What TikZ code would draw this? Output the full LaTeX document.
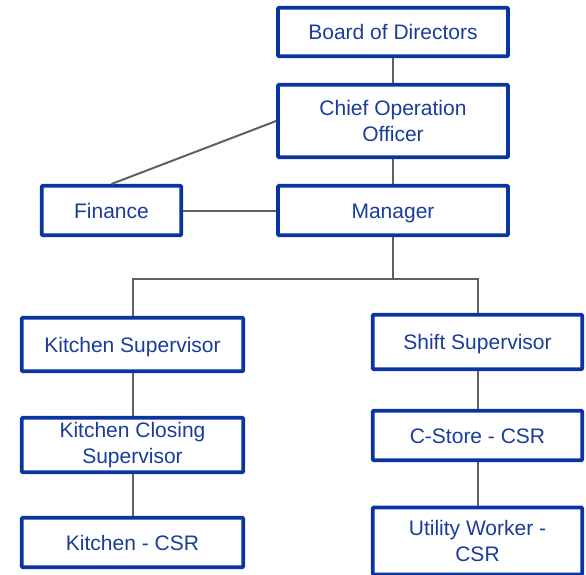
\documentclass[tikz,border=0pt]{standalone}
\usepackage{fontspec}
\setmainfont{Liberation Sans}
\definecolor{boxblue}{HTML}{0A35A0}
\definecolor{txtblue}{HTML}{1A3C9C}
\definecolor{linegray}{HTML}{606060}
\begin{document}
\begin{tikzpicture}[x=1pt,y=-1pt,
  box/.style={draw=boxblue, line width=3.6pt, rounded corners=1pt, fill=white,
    text=txtblue, align=center, inner sep=0pt,
    font=\fontsize{21}{26}\selectfont},
  oneline/.style={text height=19pt, text depth=4pt},
  conn/.style={draw=linegray, line width=2pt}]
\useasboundingbox (0,0) rectangle (586,574);
% boxes
\node[box, oneline, minimum width=230pt, minimum height=48.5pt] (board) at (393,32) {Board of Directors};
\node[box, minimum width=230pt, minimum height=72.5pt] (coo) at (393,121) {Chief Operation\\Officer};
\node[box, oneline, minimum width=139.5pt, minimum height=49.5pt] (fin) at (111.5,210.5) {Finance};
\node[box, oneline, minimum width=230pt, minimum height=49.5pt] (mgr) at (393,210.5) {Manager};
\node[box, oneline, minimum width=221.5pt, minimum height=53.5pt] (ksup) at (132.5,344.5) {Kitchen Supervisor};
\node[box, oneline, minimum width=209.5pt, minimum height=54.5pt] (ssup) at (477.5,342) {Shift Supervisor};
\node[box, minimum width=221.5pt, minimum height=54.5pt] (kclose) at (132.5,445) {Kitchen Closing\\Supervisor};
\node[box, oneline, minimum width=221.5pt, minimum height=49.5pt] (kcsr) at (132.5,542.5) {Kitchen - CSR};
\node[box, oneline, minimum width=209.5pt, minimum height=49.5pt] (cstore) at (477.5,435.5) {C-Store - CSR};
\node[box, minimum width=209.5pt, minimum height=67pt] (util) at (477.5,541) {Utility Worker -\\CSR};
\coordinate (junc) at (393,279);
% connectors
\draw[conn] (board.south) -- (coo.north);
\draw[conn] (coo.south) -- (mgr.north);
\draw[conn] (coo.west) -- (fin.north);
\draw[conn] (fin.east) -- (mgr.west);
\draw[conn] (mgr.south) -- (junc);
\draw[conn] (junc) -| (ksup.north);
\draw[conn] (junc) -| (ssup.north);
\draw[conn] (ksup.south) -- (kclose.north);
\draw[conn] (kclose.south) -- (kcsr.north);
\draw[conn] (ssup.south) -- (cstore.north);
\draw[conn] (cstore.south) -- (util.north);
\end{tikzpicture}
\end{document}
